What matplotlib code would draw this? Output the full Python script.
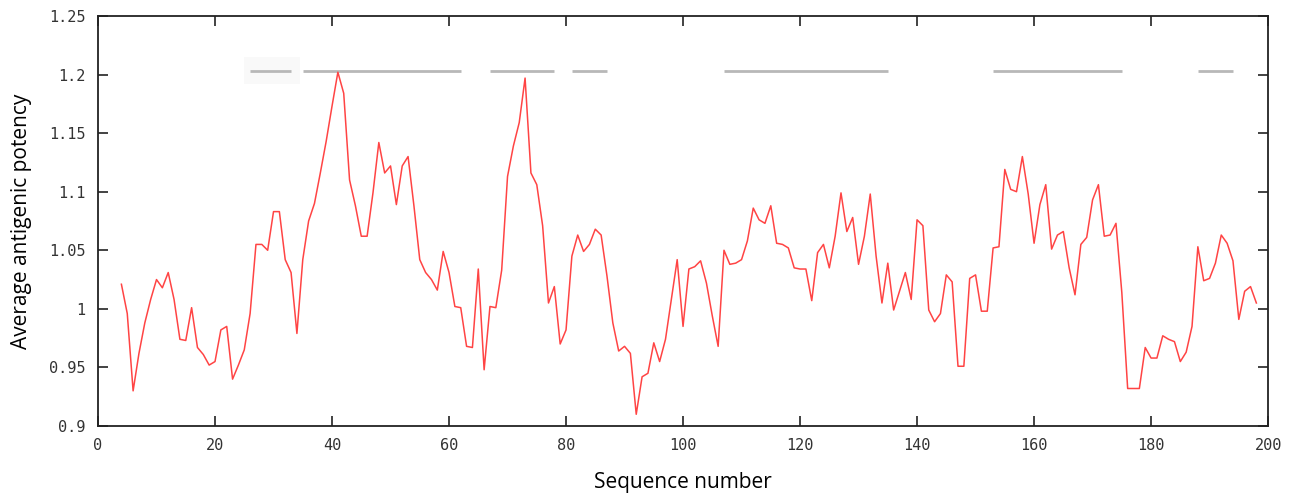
import numpy as np
import matplotlib
matplotlib.use('Agg')
import matplotlib.pyplot as plt

# averaged antigenic propensity, residues 4..198
start_pos = 4
potency = [
    1.021, 0.996, 0.930, 0.962, 0.988, 1.008, 1.025, 1.018, 1.031, 1.008,
    0.974, 0.973, 1.001, 0.967, 0.961, 0.952, 0.955, 0.982, 0.985, 0.940,
    0.952, 0.965, 0.996, 1.055, 1.055, 1.050, 1.083, 1.083, 1.042, 1.031,
    0.979, 1.042, 1.075, 1.090, 1.116, 1.143, 1.173, 1.202, 1.184, 1.110,
    1.088, 1.062, 1.062, 1.099, 1.142, 1.116, 1.122, 1.089, 1.122, 1.130,
    1.088, 1.042, 1.031, 1.025, 1.016, 1.049, 1.031, 1.002, 1.001, 0.968,
    0.967, 1.034, 0.948, 1.002, 1.001, 1.033, 1.113, 1.139, 1.159, 1.197,
    1.116, 1.106, 1.071, 1.005, 1.019, 0.970, 0.982, 1.045, 1.063, 1.049,
    1.055, 1.068, 1.063, 1.028, 0.988, 0.964, 0.968, 0.962, 0.910, 0.942,
    0.945, 0.971, 0.955, 0.974, 1.008, 1.042, 0.985, 1.034, 1.036, 1.041,
    1.022, 0.994, 0.968, 1.050, 1.038, 1.039, 1.042, 1.058, 1.086, 1.076,
    1.073, 1.088, 1.056, 1.055, 1.052, 1.035, 1.034, 1.034, 1.007, 1.048,
    1.055, 1.035, 1.062, 1.099, 1.066, 1.078, 1.038, 1.062, 1.098, 1.045,
    1.005, 1.039, 0.999, 1.015, 1.031, 1.008, 1.076, 1.071, 0.999, 0.989,
    0.996, 1.029, 1.023, 0.951, 0.951, 1.026, 1.029, 0.998, 0.998, 1.052,
    1.053, 1.119, 1.102, 1.100, 1.130, 1.098, 1.056, 1.089, 1.106, 1.051,
    1.063, 1.066, 1.035, 1.012, 1.055, 1.061, 1.093, 1.106, 1.062, 1.063,
    1.073, 1.014, 0.932, 0.932, 0.932, 0.967, 0.958, 0.958, 0.977, 0.974,
    0.972, 0.955, 0.963, 0.985, 1.053, 1.024, 1.026, 1.039, 1.063, 1.056,
    1.041, 0.991, 1.015, 1.019, 1.005,
]
seq_pos = np.arange(start_pos, start_pos + len(potency))

# predicted antigenic determinants (start, end)
region_start = [26, 35, 67, 81, 107, 153, 188]
region_end = [33, 62, 78, 87, 135, 175, 194]
region_level = 1.203

xticks = [0, 20, 40, 60, 80, 100, 120, 140, 160, 180, 200]
yticks = [0.9, 0.95, 1.0, 1.05, 1.1, 1.15, 1.2, 1.25]
ytick_labels = ['0.9', '0.95', '1', '1.05', '1.1', '1.15', '1.2', '1.25']

fig = plt.figure(figsize=(13.05, 4.98), dpi=100)
ax = fig.add_axes([0.0751, 0.1446, 0.8966, 0.8233])

# faint box behind the first segment (artifact in the original)
ax.axvspan(25, 34.5, ymin=(1.192 - 0.9) / 0.35, ymax=(1.215 - 0.9) / 0.35,
           color='#f9f9f9', lw=0, zorder=0)
ax.hlines([region_level] * len(region_start), region_start, region_end,
          colors='#b8b8b8', lw=2, zorder=1)
ax.plot(seq_pos, potency, color='#ff4444', lw=1.1, zorder=2)

ax.set_xlim(0, 200)
ax.set_ylim(0.9, 1.25)
ax.set_xticks(xticks)
ax.set_yticks(yticks)
ax.set_yticklabels(ytick_labels)
ax.tick_params(direction='in', length=7, width=1.2, color='#222222',
               top=True, right=True, labelsize=11, pad=9)
for lab in ax.get_xticklabels() + ax.get_yticklabels():
    lab.set_fontfamily('DejaVu Sans Mono')
    lab.set_color('#333333')
for s in ax.spines.values():
    s.set_linewidth(1.3)
    s.set_color('#222222')

ax.set_xlabel('Sequence number', fontsize=15, family='Open Sans', labelpad=13)
ax.set_ylabel('Average antigenic potency', fontsize=15, family='Open Sans', labelpad=12)

fig.savefig('out.png', dpi=100)
